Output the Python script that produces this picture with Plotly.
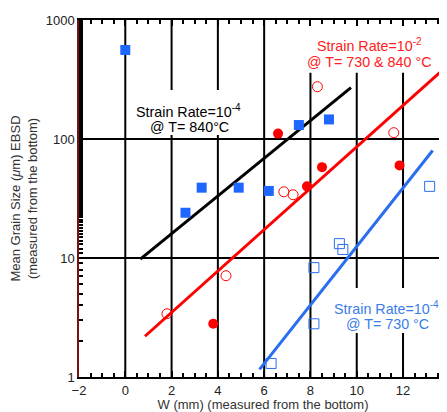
import plotly.graph_objects as go

# ---- data ----
blue_filled_x = [0.0, 2.6, 3.3, 4.9, 6.2, 7.5, 8.8]
blue_filled_y = [560, 24, 39, 39, 36.6, 131, 146]

red_filled_x = [3.8, 6.6, 7.85, 8.5, 11.85]
red_filled_y = [2.8, 111, 40, 58, 60]

red_open_x = [1.8, 4.35, 6.85, 7.25, 8.3, 11.6]
red_open_y = [3.4, 7.1, 36, 34, 275, 113]

blue_open_x = [6.3, 8.15, 8.15, 9.25, 9.4, 13.15]
blue_open_y = [1.3, 2.8, 8.3, 13.2, 11.8, 40]

black_fit_x = [0.65, 9.75]
black_fit_y = [9.8, 270]
red_fit_x = [0.85, 13.9]
red_fit_y = [2.2, 410]
blue_fit_x = [5.8, 13.28]
blue_fit_y = [1.16, 80]

x_ticks = [-2, 0, 2, 4, 6, 8, 10, 12]
y_ticks = [1, 10, 100, 1000]
x_grid = [0, 2, 4, 6, 8, 10, 12]
y_grid = [10, 100]

BLUE = "#1f66ff"
BLUE_LINE = "#2a6ef0"
BLUE_TEXT = "#3a7de8"
RED = "#ff0000"

fig = go.Figure()

fig.add_trace(go.Scatter(x=black_fit_x, y=black_fit_y, mode="lines",
                         line=dict(color="black", width=3), showlegend=False))
fig.add_trace(go.Scatter(x=red_fit_x, y=red_fit_y, mode="lines",
                         line=dict(color=RED, width=3), showlegend=False))
fig.add_trace(go.Scatter(x=blue_fit_x, y=blue_fit_y, mode="lines",
                         line=dict(color=BLUE_LINE, width=3), showlegend=False))

fig.add_trace(go.Scatter(x=blue_filled_x, y=blue_filled_y, mode="markers",
                         marker=dict(symbol="square", size=10, color=BLUE), showlegend=False))
fig.add_trace(go.Scatter(x=red_filled_x, y=red_filled_y, mode="markers",
                         marker=dict(symbol="circle", size=10, color=RED), showlegend=False))
fig.add_trace(go.Scatter(x=red_open_x, y=red_open_y, mode="markers",
                         marker=dict(symbol="circle-open", size=10, color=RED,
                                     line=dict(width=1)), showlegend=False))
fig.add_trace(go.Scatter(x=blue_open_x, y=blue_open_y, mode="markers",
                         marker=dict(symbol="square-open", size=10, color=BLUE_LINE,
                                     line=dict(width=1)), showlegend=False))

# grid lines drawn as shapes (below traces)
for gx in x_grid:
    fig.add_shape(type="line", xref="x", yref="paper", x0=gx, x1=gx, y0=0, y1=1,
                  line=dict(color="black", width=2), layer="below")
for gy in y_grid:
    fig.add_shape(type="line", xref="paper", yref="y", x0=0, x1=1, y0=gy, y1=gy,
                  line=dict(color="black", width=2), layer="below")

# white boxes behind the text, hiding the grid
for (x0, x1, y0, y1) in [(0.141, 0.452, 0.678, 0.804),
                         (0.58, 1.0, 0.852, 1.0),
                         (0.669, 1.0, 0.123, 0.249)]:
    fig.add_shape(type="rect", xref="paper", yref="paper", x0=x0, x1=x1, y0=y0, y1=y1,
                  fillcolor="white", line=dict(width=0), layer="below")

FONT = "Liberation Sans, Arial, sans-serif"

def note(text, x, ly, color):
    fig.add_annotation(text=text, x=x, y=ly, xref="x", yref="y", showarrow=False,
                       font=dict(family=FONT, size=14.3, color=color),
                       xanchor="center", yanchor="middle")

note("Strain Rate=10<sup>-4</sup>", 2.74, 2.235, "black")
note("@ T= 840°C", 2.79, 2.10, "black")
note("Strain Rate=10<sup>-2</sup>", 10.53, 2.79, "#ff2020")
note("@ T= 730 & 840 °C", 10.53, 2.65, "#ff2020")
note("Strain Rate=10<sup>-4</sup>", 11.3, 0.58, BLUE_TEXT)
note("@ T= 730 °C", 11.32, 0.445, BLUE_TEXT)

fig.update_layout(
    width=439, height=404,
    margin=dict(l=71, r=0, t=12, b=35, autoexpand=False),
    paper_bgcolor="white", plot_bgcolor="white",
    font=dict(family=FONT, size=13, color="#222"),
    xaxis=dict(range=[-2, 13.9], tickvals=x_ticks, showgrid=False, automargin=False,
               ticks="inside", ticklen=6, tickcolor="black", tickwidth=1.5,
               showline=True, linecolor="black", linewidth=2, mirror="allticks",
               zeroline=False,
               minor=dict(dtick=0.5, tick0=-2, ticks="inside", ticklen=4, tickcolor="black",
                          tickwidth=1.5, showgrid=False),
               title=dict(text="W (mm) (measured from the bottom)",
                          font=dict(size=13, color="#333"), standoff=2),
               tickfont=dict(size=13, color="#222")),
    yaxis=dict(type="log", range=[0, 3], tickvals=y_ticks, ticktext=["1", "10", "100", "1000"],
               showgrid=False, automargin=False,
               ticks="inside", ticklen=6, tickcolor="black", tickwidth=1.5,
               showline=True, linecolor="#7a1010", linewidth=1.5, zeroline=False,
               minor=dict(ticks="inside", ticklen=4, tickcolor="black", tickwidth=1.5,
                          showgrid=False),
               title=dict(text="Mean Grain Size (<i>μ</i>m) EBSD<br>(measured from the bottom)",
                          font=dict(size=13, color="#333"), standoff=6),
               tickfont=dict(size=13, color="#222")),
    yaxis2=dict(type="log", range=[0, 3], overlaying="y", side="right", anchor="x",
                showgrid=False, showline=False, zeroline=False, showticklabels=False,
                automargin=False,
                tickvals=y_ticks, ticks="inside", ticklen=6, tickcolor="black", tickwidth=1.5,
                minor=dict(ticks="inside", ticklen=4, tickcolor="black", tickwidth=1.5,
                           showgrid=False)),
)

fig.write_html("out.html")
